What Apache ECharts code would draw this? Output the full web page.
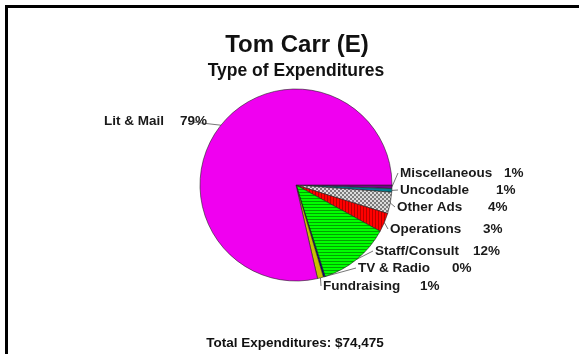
<!DOCTYPE html>
<html>
<head>
<meta charset="utf-8">
<script src="https://cdn.jsdelivr.net/npm/echarts@6/dist/echarts.min.js"></script>
<style>
html,body{margin:0;padding:0;background:#fff;}
#chart{width:579px;height:354px;}
</style>
</head>
<body>
<div id="chart"></div>
<script>
// ---- data ----
const categories = ['Miscellaneous', 'Uncodable', 'Other Ads', 'Operations', 'Staff/Consult', 'TV & Radio', 'Fundraising', 'Lit & Mail'];
const values = [0.6, 0.6, 3.6, 3.2, 12.1, 0.3, 1.0, 78.6];
const pctLabels = ['1%', '1%', '4%', '3%', '12%', '0%', '1%', '79%'];
const titleText = 'Tom Carr (E)';
const subtitleText = 'Type of Expenditures';
const totalText = 'Total Expenditures: $74,475';

// ---- style / layout ----
const FONT = '"Liberation Sans", Arial, sans-serif';
// label left x, center y, name column width
const labelLayoutPos = [
  [400, 173, 104],
  [400, 190, 96],
  [397, 207, 91],
  [390, 229, 93],
  [375, 251, 98],
  [358, 268, 94],
  [323, 286, 97],
  [104, 121, 76]
];

function pattern(w, h, bg, fg, draw) {
  const c = document.createElement('canvas');
  c.width = w; c.height = h;
  const g = c.getContext('2d');
  g.fillStyle = bg; g.fillRect(0, 0, w, h);
  g.fillStyle = fg; draw(g);
  return { image: c, repeat: 'repeat' };
}
const greenPat = pattern(4, 3, '#00ff00', '#00a400', g => g.fillRect(0, 0, 4, 1));
const redPat = pattern(3, 4, '#ff0000', '#b80000', g => g.fillRect(0, 0, 1, 4));
const grayPat = pattern(4, 4, '#dcdcdc', '#7c7c7c', g => { g.fillRect(0, 0, 2, 2); g.fillRect(2, 2, 2, 2); });

const colors = ['#78008c', '#007f8f', grayPat, redPat, greenPat, '#000080', '#c8c000', '#f000f0'];

const data = categories.map((name, i) => ({
  name: name,
  value: values[i],
  itemStyle: { color: colors[i] },
  label: {
    formatter: '{n|' + name + '}{p|' + pctLabels[i] + '}',
    rich: {
      n: { width: labelLayoutPos[i][2], fontFamily: FONT, fontWeight: 'bold', fontSize: 13.5, color: '#1a1a1a' },
      p: { fontFamily: FONT, fontWeight: 'bold', fontSize: 13.5, color: '#1a1a1a' }
    }
  }
}));

const chart = echarts.init(document.getElementById('chart'), null, { renderer: 'canvas' });
chart.setOption({
  animation: false,
  backgroundColor: '#ffffff',
  graphic: [
    { type: 'rect', shape: { x: 6.5, y: 6.5, width: 700, height: 500 }, style: { fill: 'none', stroke: '#000', lineWidth: 3 } },
    { type: 'text', x: 297, y: 45, style: { text: titleText, align: 'center', verticalAlign: 'middle', font: 'bold 24px ' + FONT, fill: '#111' } },
    { type: 'text', x: 296, y: 71, style: { text: subtitleText, align: 'center', verticalAlign: 'middle', font: 'bold 17.5px ' + FONT, fill: '#111' } },
    { type: 'text', x: 295, y: 343, style: { text: totalText, align: 'center', verticalAlign: 'middle', font: 'bold 13.5px ' + FONT, fill: '#111' } }
  ],
  series: [{
    type: 'pie',
    center: [296, 185],
    radius: 96,
    startAngle: 0,
    clockwise: true,
    avoidLabelOverlap: false,
    minAngle: 0,
    data: data,
    itemStyle: { borderColor: '#222', borderWidth: 0.6 },
    emphasis: { disabled: true },
    label: { show: true, position: 'outside' },
    labelLine: { show: true, length: 5, length2: 5, lineStyle: { color: '#777', width: 1 } },
    labelLayout: function (params) {
      const i = params.dataIndex;
      const p = labelLayoutPos[i];
      const start = params.labelLinePoints ? params.labelLinePoints[0] : [p[0], p[1]];
      let end;
      if (i === categories.length - 1) {
        end = [p[0] + params.labelRect.width + 2, p[1] + 1];
      } else {
        end = [p[0] - 2, p[1]];
      }
      return {
        x: p[0], y: p[1], align: 'left', verticalAlign: 'middle',
        labelLinePoints: [start, end, end]
      };
    }
  }]
});
</script>
</body>
</html>
